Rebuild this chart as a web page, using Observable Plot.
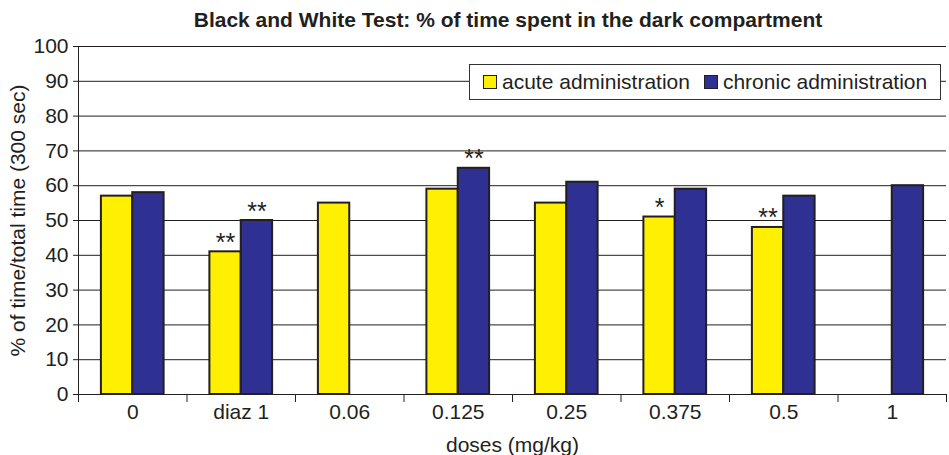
<!DOCTYPE html>
<html>
<head>
<meta charset="utf-8">
<script src="https://cdn.jsdelivr.net/npm/d3@7"></script>
<script src="https://cdn.jsdelivr.net/npm/@observablehq/plot@0.6"></script>
<style>
  html, body { margin: 0; padding: 0; background: #fff; }
  #wrap { position: relative; width: 949px; height: 455px; font-family: "Liberation Sans", Arial, sans-serif; color: #231F20; }
  #title { position: absolute; left: 70px; width: 876px; top: 8px; text-align: center; font-weight: bold; font-size: 21px; }
  #legend { position: absolute; left: 469px; top: 64px; width: 472px; height: 36px; box-sizing: border-box; border: 1px solid #333; background: #fff; display: flex; align-items: center; font-size: 21px; padding-left: 13px; }
  .sw { display: inline-block; width: 12px; height: 12px; border: 1px solid #231F20; margin-right: 5px; }
  .item { display: flex; align-items: center; margin-right: 14px; white-space: nowrap; }
</style>
</head>
<body>
<div id="wrap">
  <div id="chart"></div>
  <div id="title"></div>
  <div id="legend"></div>
</div>
<script>
const titleText = "Black and White Test: % of time spent in the dark compartment";
const categories = ["0", "diaz 1", "0.06", "0.125", "0.25", "0.375", "0.5", "1"];
const acute = [57, 41, 55, 59, 55, 51, 48, null];
const chronic = [58, 50, null, 65, 61, 59, 57, 60];
const sigAcute = ["", "**", "", "", "", "*", "**", ""];
const sigChronic = ["", "**", "", "**", "", "", "", ""];
const seriesNames = ["acute administration", "chronic administration"];
const colors = ["#FFEF00", "#2E3192"];
const yTicks = [0, 10, 20, 30, 40, 50, 60, 70, 80, 90, 100];
const yLabel = "% of time/total time (300 sec)";
const xLabel = "doses (mg/kg)";

const W = 0.289; // bar width in band units
const rows = [];
categories.forEach((c, i) => {
  if (acute[i] != null) rows.push({i, series: 0, x1: i - W, x2: i, v: acute[i], sig: sigAcute[i]});
  if (chronic[i] != null) rows.push({i, series: 1, x1: i, x2: i + W, v: chronic[i], sig: sigChronic[i]});
});
const boundaries = d3.range(categories.length + 1).map(k => k - 0.5);
const centers = d3.range(categories.length);

const ink = "#231F20";
const chart = Plot.plot({
  width: 949,
  height: 455,
  marginLeft: 78,
  marginRight: 3,
  marginTop: 46,
  marginBottom: 61,
  style: {fontFamily: '"Liberation Sans", Arial, sans-serif', color: ink, background: "#fff", overflow: "visible"},
  x: {domain: [-0.5, categories.length - 0.5]},
  y: {domain: [0, 100]},
  marks: [
    Plot.gridY(yTicks, {stroke: ink, strokeOpacity: 1, strokeWidth: 1}),
    Plot.rectY(rows, {x1: "x1", x2: "x2", y1: 0, y2: "v", fill: d => colors[d.series], stroke: ink, strokeWidth: 2}),
    Plot.text(rows.filter(d => d.sig), {x: d => (d.x1 + d.x2) / 2, y: "v", text: "sig", fontSize: 25, lineAnchor: "bottom", dy: -1, fill: ink}),
    Plot.ruleY([0], {stroke: ink, strokeWidth: 1}),
    Plot.axisY({ticks: yTicks, tickSize: 5, tickPadding: 5, fontSize: 21, label: yLabel, labelAnchor: "center", labelArrow: "none", labelOffset: 68, stroke: ink}),
    Plot.frame({anchor: "left", stroke: ink}),
    Plot.axisX({ticks: boundaries, tickFormat: () => "", tickSize: 8, stroke: ink, label: null}),
    Plot.axisX({ticks: centers, tickFormat: i => categories[i], tickSize: 0, tickPadding: 10, fontSize: 21, label: xLabel, labelAnchor: "center", labelArrow: "none", labelOffset: 57})
  ]
});
document.getElementById("chart").appendChild(chart);
document.getElementById("title").textContent = titleText;
const leg = document.getElementById("legend");
seriesNames.forEach((n, k) => {
  const it = document.createElement("span");
  it.className = "item";
  const sw = document.createElement("span");
  sw.className = "sw";
  sw.style.background = colors[k];
  it.appendChild(sw);
  it.appendChild(document.createTextNode(n));
  leg.appendChild(it);
});
</script>
</body>
</html>
